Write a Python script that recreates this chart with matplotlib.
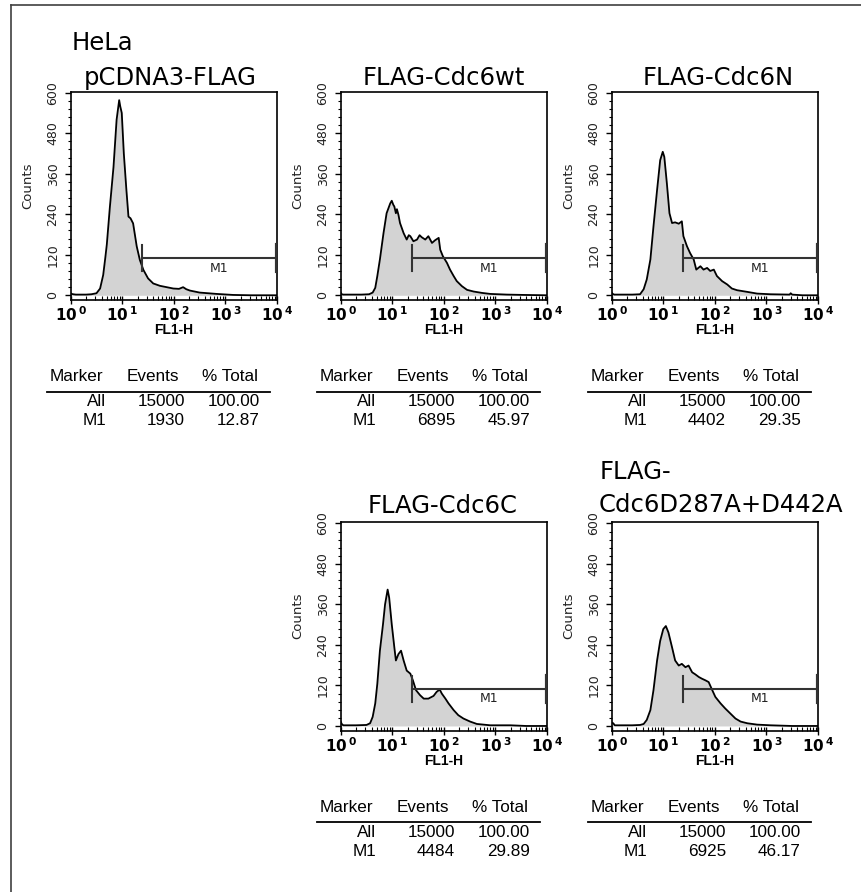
import matplotlib
matplotlib.use('Agg')
import matplotlib.pyplot as plt
from matplotlib.lines import Line2D
from matplotlib.ticker import FixedLocator, MultipleLocator, LogLocator, NullFormatter

# ---------------- data ----------------
titles = ["HeLa\npCDNA3-FLAG", "FLAG-Cdc6wt", "FLAG-Cdc6N", "FLAG-Cdc6C", "FLAG-\nCdc6D287A+D442A"]

# log10(FL1-H) positions and counts for each histogram
lx1 = [0.0, 0.02, 0.05, 0.1, 0.2, 0.3, 0.4, 0.5, 0.57, 0.63, 0.67, 0.70, 0.76, 0.83, 0.89, 0.94, 0.96, 0.99,
       1.03, 1.08, 1.12, 1.16, 1.21, 1.28, 1.34, 1.41, 1.50, 1.60, 1.73, 1.86, 1.99, 2.10, 2.18, 2.24, 2.31,
       2.50, 2.83, 3.15, 3.5, 4.0]
c1 = [6, 4, 3, 2, 2, 2, 3, 6, 20, 60, 110, 150, 262, 380, 520, 578, 560, 540,
      420, 312, 233, 228, 213, 145, 105, 75, 50, 35, 28, 24, 20, 19, 24, 18, 14,
      8, 4, 1, 0, 0]

lx2 = [0.0, 0.02, 0.05, 0.2, 0.4, 0.55, 0.62, 0.67, 0.71, 0.76, 0.83, 0.89, 0.96, 0.99, 1.02, 1.04, 1.07,
       1.09, 1.12, 1.15, 1.22, 1.28, 1.32, 1.35, 1.41, 1.48, 1.53, 1.57, 1.64, 1.70, 1.77, 1.83, 1.90, 1.93,
       1.98, 2.06, 2.12, 2.19, 2.25, 2.35, 2.45, 2.58, 2.74, 2.90, 3.22, 3.55, 4.0]
c2 = [8, 3, 2, 2, 2, 3, 8, 22, 57, 106, 184, 243, 272, 280, 268, 263, 243,
      255, 238, 214, 184, 165, 178, 175, 160, 165, 178, 172, 165, 175, 155, 163, 170, 135,
      116, 96, 76, 57, 42, 27, 16, 11, 7, 4, 2, 1, 0]

lx3 = [0.0, 0.02, 0.05, 0.2, 0.4, 0.55, 0.62, 0.68, 0.75, 0.81, 0.88, 0.94, 0.99, 1.02, 1.07, 1.12, 1.17,
       1.23, 1.30, 1.36, 1.39, 1.46, 1.52, 1.59, 1.64, 1.72, 1.78, 1.85, 1.91, 1.98, 2.04, 2.14, 2.24, 2.33,
       2.43, 2.63, 2.82, 3.08, 3.45, 3.47, 3.50, 3.7, 4.0]
c3 = [8, 4, 2, 2, 2, 3, 18, 47, 106, 204, 312, 400, 425, 410, 331, 243, 214,
      216, 212, 219, 175, 145, 125, 106, 76, 86, 76, 81, 72, 76, 57, 42, 32, 20,
      15, 10, 5, 3, 2, 6, 2, 0, 0]

lx4 = [0.0, 0.02, 0.05, 0.1, 0.3, 0.5, 0.57, 0.62, 0.67, 0.71, 0.76, 0.82, 0.86, 0.91, 0.94, 0.99, 1.04,
       1.07, 1.12, 1.17, 1.22, 1.28, 1.35, 1.40, 1.46, 1.54, 1.61, 1.70, 1.80, 1.86, 1.92, 1.96, 2.03, 2.09,
       2.19, 2.28, 2.38, 2.51, 2.64, 2.90, 3.29, 3.6, 4.0]
c4 = [13, 6, 2, 2, 2, 3, 8, 27, 67, 125, 223, 301, 360, 404, 380, 301, 233,
      194, 213, 223, 194, 164, 155, 135, 106, 91, 81, 81, 89, 101, 108, 96, 81, 67,
      47, 32, 22, 13, 6, 2, 2, 0, 0]

lx5 = [0.0, 0.03, 0.06, 0.2, 0.4, 0.55, 0.62, 0.68, 0.75, 0.81, 0.88, 0.94, 1.00, 1.05, 1.10, 1.17, 1.23,
       1.30, 1.36, 1.43, 1.49, 1.56, 1.62, 1.69, 1.75, 1.82, 1.88, 1.95, 2.01, 2.11, 2.20, 2.30, 2.40, 2.50,
       2.63, 2.82, 3.08, 3.5, 4.0]
c5 = [10, 8, 2, 2, 2, 3, 6, 18, 47, 106, 194, 252, 287, 296, 277, 233, 194,
      179, 184, 174, 179, 159, 153, 145, 140, 135, 130, 106, 86, 67, 52, 37, 22, 13,
      8, 4, 2, 0, 0]

# M1 marker gate
m1_lo = 24.5
m1_hi = 9900
m1_level = 110

# statistics tables
markers = ["All", "M1"]
events = [[15000, 1930], [15000, 6895], [15000, 4402], [15000, 4484], [15000, 6925]]
pct_total = [["100.00", "12.87"], ["100.00", "45.97"], ["100.00", "29.35"],
             ["100.00", "29.89"], ["100.00", "46.17"]]

yticks = [0, 120, 240, 360, 480, 600]
xticks = [1, 10, 100, 1000, 10000]
xtick_labels = [r'$\mathbf{10^{\,0}}$', r'$\mathbf{10^{\,1}}$', r'$\mathbf{10^{\,2}}$',
                r'$\mathbf{10^{\,3}}$', r'$\mathbf{10^{\,4}}$']

series = [(lx1, c1), (lx2, c2), (lx3, c3), (lx4, c4), (lx5, c5)]

# ---------------- layout ----------------
W, H = 862, 892
fig = plt.figure(figsize=(W / 100, H / 100), dpi=100)
fig.patch.set_facecolor('white')

AX_W, AX_H = 206.3, 208.3
lefts = [70.7, 340.7, 611.7, 340.7, 611.7]
bottoms = [300, 300, 300, 730.7, 730.7]


def fx(px):
    return px / W


def fy(py):
    return 1 - py / H


for i, (lx, cnt) in enumerate(series):
    L, B = lefts[i], bottoms[i]
    ax = fig.add_axes([fx(L), fy(B), AX_W / W, AX_H / H])
    xs = [10 ** v for v in lx]
    ax.fill_between(xs, 0, cnt, color='#d3d3d3', lw=0, zorder=1)
    ax.plot(xs, cnt, color='black', lw=1.3, zorder=2)
    ax.set_xscale('log')
    ax.set_xlim(1, 10000)
    ax.set_ylim(-14, 603)

    # M1 gate
    ax.plot([m1_lo, m1_hi], [m1_level, m1_level], color='#333333', lw=1.5, zorder=3)
    ax.plot([m1_lo, m1_lo], [m1_level - 38, m1_level + 38], color='#333333', lw=1.5, zorder=3)
    ax.plot([m1_hi, m1_hi], [m1_level - 38, m1_level + 38], color='#333333', lw=3, zorder=3)
    ax.text(760, 80, 'M1', ha='center', va='center', fontsize=9, family='DejaVu Sans', color='#222222')

    # y axis
    ax.yaxis.set_major_locator(FixedLocator(yticks))
    ax.yaxis.set_minor_locator(MultipleLocator(24))
    ax.set_yticklabels([str(v) for v in yticks], rotation=90, va='center', fontsize=9,
                       family='DejaVu Sans', color='#222222')
    ax.tick_params(axis='y', which='major', direction='out', length=4, width=1, pad=4)
    ax.tick_params(axis='y', which='minor', direction='out', length=2.5, width=0.8)
    ax.set_ylabel('Counts', fontsize=9.5, family='DejaVu Sans', color='#222222')
    ax.yaxis.set_label_coords(-0.178, 0.55)

    # x axis
    ax.xaxis.set_major_locator(FixedLocator(xticks))
    ax.set_xticklabels(xtick_labels, fontsize=11)
    ax.xaxis.set_minor_locator(LogLocator(base=10, subs=[2, 3, 4, 5, 6, 7, 8, 9], numticks=20))
    ax.xaxis.set_minor_formatter(NullFormatter())
    ax.tick_params(axis='x', which='major', direction='inout', length=6, width=1, pad=1)
    ax.tick_params(axis='x', which='minor', direction='in', length=3, width=0.8)
    ax.set_xlabel('FL1-H', fontsize=10, fontweight='bold', family='Liberation Sans', labelpad=-1)
    for sp in ax.spines.values():
        sp.set_linewidth(1.2)

    # stats table
    tf = dict(fontsize=12.3, family='Liberation Sans', color='black')
    fig.text(fx(L - 21), fy(B + 81), 'Marker', ha='left', va='baseline', **tf)
    fig.text(fx(L + 56), fy(B + 81), 'Events', ha='left', va='baseline', **tf)
    fig.text(fx(L + 131), fy(B + 81), '% Total', ha='left', va='baseline', **tf)
    fig.add_artist(Line2D([fx(L - 23.7), fx(L + 199.3)], [fy(B + 91.7), fy(B + 91.7)],
                          color='black', lw=1.3))
    for r in range(2):
        yb = fy(B + 106.5 + 18.5 * r)
        fig.text(fx(L + 35.3), yb, markers[r], ha='right', va='baseline', **tf)
        fig.text(fx(L + 114.3), yb, str(events[i][r]), ha='right', va='baseline', **tf)
        fig.text(fx(L + 189.3), yb, pct_total[i][r], ha='right', va='baseline', **tf)

# titles
title_font = dict(fontsize=17.5, family='DejaVu Sans', color='black', va='baseline')
fig.text(fx(72), fy(50), 'HeLa', ha='left', **title_font)
fig.text(fx(84), fy(85), 'pCDNA3-FLAG', ha='left', **title_font)
fig.text(fx(443.8), fy(85), titles[1], ha='center', **title_font)
fig.text(fx(718), fy(85), titles[2], ha='center', **title_font)
fig.text(fx(442.5), fy(513), titles[3], ha='center', **title_font)
fig.text(fx(600), fy(479), 'FLAG-', ha='left', **title_font)
fig.text(fx(599), fy(512), 'Cdc6D287A+D442A', ha='left', **title_font)

# frame lines (top and left)
fig.add_artist(Line2D([fx(11), 1.0], [fy(5), fy(5)], color='#404040', lw=1.2))
fig.add_artist(Line2D([fx(11), fx(11)], [fy(5), 0.0], color='#404040', lw=1.2))

fig.savefig('out.png', dpi=100, facecolor='white')
